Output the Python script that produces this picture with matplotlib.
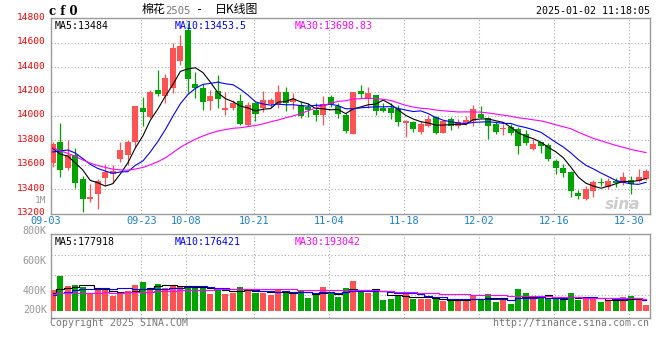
import pandas as pd
import matplotlib
matplotlib.use("Agg")
import matplotlib.pyplot as plt
from matplotlib.transforms import blended_transform_factory, ScaledTranslation

# 棉花2505 daily K, 2024-09-03 .. 2025-01-02
opens = [13612, 13787, 13571, 13681, 13487, 13323, 13361, 13495, 13525, 13648,
         13681, 13790, 14063, 13995, 14213, 14167, 14232, 14450, 14704, 14262,
         14232, 14123, 14205, 14049, 14063, 14123, 13926, 14109, 14063, 14098,
         14096, 14199, 14112, 14090, 14076, 14049, 14008, 14158, 14085, 14008,
         13853, 14205, 14137, 14172, 14068, 14068, 14057, 13945, 13948, 13872,
         13918, 13989, 13864, 13973, 13918, 13940, 13959, 14016, 13986, 13932,
         13894, 13913, 13894, 13853, 13730, 13790, 13762, 13634, 13571, 13544,
         13372, 13320, 13388, 13462, 13421, 13470, 13454, 13476, 13470, 13481]
highs = [13790, 13940, 13801, 13741, 13506, 13440, 13481, 13607, 13598, 13790,
         13803, 14082, 14158, 14213, 14377, 14341, 14601, 14663, 14759, 14363,
         14259, 14213, 14336, 14199, 14131, 14177, 14117, 14117, 14205, 14150,
         14254, 14240, 14191, 14123, 14104, 14104, 14164, 14172, 14104, 14022,
         14199, 14254, 14240, 14172, 14104, 14104, 14090, 13967, 13959, 13959,
         14008, 14000, 13965, 13995, 13975, 14000, 14090, 14082, 13995, 13954,
         13932, 13932, 13913, 13885, 13812, 13790, 13776, 13648, 13607, 13546,
         13394, 13429, 13476, 13489, 13489, 13489, 13544, 13509, 13566, 13563]
lows = [13585, 13503, 13558, 13413, 13216, 13298, 13236, 13435, 13448, 13626,
        13600, 13749, 13918, 13981, 14164, 14104, 14186, 14418, 14190, 14145,
        14049, 14049, 14063, 14008, 14049, 13926, 13920, 13959, 14035, 14063,
        14063, 14041, 14055, 13981, 13995, 13959, 13926, 14076, 13986, 13864,
        13853, 14145, 14063, 14008, 14035, 13973, 13921, 13831, 13872, 13853,
        13913, 13850, 13864, 13885, 13904, 13926, 13918, 13981, 13812, 13853,
        13844, 13844, 13689, 13762, 13722, 13694, 13634, 13525, 13498, 13339,
        13318, 13312, 13339, 13429, 13402, 13421, 13435, 13358, 13462, 13476]
closes = [13771, 13560, 13681, 13454, 13323, 13339, 13468, 13544, 13552, 13722,
          13790, 14082, 14035, 14199, 14180, 14314, 14560, 14573, 14300, 14227,
          14117, 14164, 14137, 14063, 14104, 13934, 14090, 14016, 14131, 14131,
          14199, 14109, 14139, 14000, 14049, 14008, 14098, 14096, 14016, 13877,
          14199, 14180, 14186, 14044, 14041, 14027, 13954, 13959, 13894, 13932,
          13975, 13864, 13959, 13918, 13948, 13967, 14057, 13986, 13921, 13872,
          13899, 13858, 13757, 13782, 13771, 13757, 13648, 13571, 13536, 13388,
          13348, 13399, 13457, 13449, 13470, 13449, 13498, 13440, 13498, 13552]
# volume, thousand lots
volumes = [331, 555, 395, 411, 384, 288, 341, 331, 240, 288,
           320, 411, 464, 357, 427, 368, 411, 395, 395, 357,
           373, 267, 357, 267, 288, 384, 320, 288, 288, 245,
           347, 304, 267, 331, 208, 251, 384, 288, 224, 368,
           475, 304, 277, 331, 171, 187, 251, 267, 187, 187,
           187, 187, 160, 160, 160, 171, 251, 181, 267, 144,
           171, 107, 347, 288, 181, 197, 208, 197, 187, 288,
           171, 187, 213, 144, 160, 155, 213, 235, 197, 91]

# off-chart history before 09-03 (estimated from where the MA lines start)
prior_closes = [14320, 14280, 14230, 14180, 14120, 14060, 14010, 13960, 13920, 13880,
                13780, 13650, 13540, 13430, 13350, 13290, 13260, 13250, 13280, 13340,
                13480, 13600, 13700, 13780, 13815, 13800, 13760, 13734, 13610]
prior_volumes = [260, 290, 310, 280, 250, 270, 300, 320, 290, 260,
                 240, 270, 300, 280, 260, 250, 270, 290, 255, 255,
                 200, 220, 210, 230, 210, 280, 300, 301, 228]

tick_pos = [0, 12, 18, 27, 37, 47, 57, 67, 77]
tick_labels = ["09-03", "09-23", "10-08", "10-21", "11-04", "11-18", "12-02", "12-16", "12-30"]

RED = "#ff5252"
GREEN = "#00a400"
GRID = "#aaaaaa"
FRAME = "#999999"
MONO = "DejaVu Sans Mono"

n = len(closes)
x = list(range(n))
c_all = pd.Series(prior_closes + closes)
v_all = pd.Series(prior_volumes + volumes)
k = len(prior_closes)
ma5 = c_all.rolling(5).mean().iloc[k:].values
ma10 = c_all.rolling(10).mean().iloc[k:].values
ma30 = c_all.rolling(30).mean().iloc[k:].values
vma5 = v_all.rolling(5).mean().iloc[k:].values
vma10 = v_all.rolling(10).mean().iloc[k:].values
vma30 = v_all.rolling(30).mean().iloc[k:].values

up = [c >= o for o, c in zip(opens, closes)]
cols = [RED if u else GREEN for u in up]

fig = plt.figure(figsize=(6.6, 3.6), dpi=100)
ax = fig.add_axes([50.7 / 660, 1 - 213.6 / 360, 599.3 / 660, 195.3 / 360])
axv = fig.add_axes([50.7 / 660, 1 - 318.3 / 360, 599.3 / 660, 84 / 360])

# candles
bottoms = [min(o, c) for o, c in zip(opens, closes)]
heights = [max(abs(c - o), 8) for o, c in zip(opens, closes)]
ax.vlines(x, lows, highs, colors=cols, linewidth=0.9, zorder=3)
ax.bar(x, heights, bottom=bottoms, width=0.8, color=cols, linewidth=0, zorder=4)
ax.plot(x, ma5, color="black", lw=0.8, zorder=5)
ax.plot(x, ma10, color="#0000ff", lw=0.8, zorder=5)
ax.plot(x, ma30, color="#ff00ff", lw=0.8, zorder=5)

ax.set_xlim(-0.27, 79.53)
ax.set_ylim(13200, 14800)
ax.set_yticks(range(13200, 14801, 200))
ax.tick_params(axis="y", length=0, pad=3.4, labelcolor="#ff0000", labelsize=6.8)
lift = ScaledTranslation(0, 2 / 100, fig.dpi_scale_trans)
for lab in ax.get_yticklabels():
    lab.set_family(MONO)
    lab.set_transform(lab.get_transform() + lift)
ax.set_xticks([])
for y in range(13400, 14800, 200):
    ax.axhline(y, color=GRID, lw=0.8, ls=(0, (1, 2)), zorder=1)
for p in tick_pos[1:]:
    ax.axvline(p - 0.2, color=GRID, lw=0.8, ls=(0, (1, 2)), zorder=1)

tr = blended_transform_factory(ax.transData, ax.transAxes)
for p, lab in zip(tick_pos, tick_labels):
    xp = p - 1 if p == 0 else p - 0.2
    ax.text(xp, -0.037, lab, transform=tr, ha="center", va="center",
            fontsize=7.4, family=MONO, color="#1a80d0", clip_on=False)
ax.text(-0.0075, 13310, "1M", transform=blended_transform_factory(ax.transAxes, ax.transData),
        ha="right", va="center", fontsize=6.8, family=MONO, color="#999999")

ax.text(0.006, 0.985, "MA5:13484", transform=ax.transAxes, ha="left", va="top",
        fontsize=7.1, family=MONO, color="black")
ax.text(0.206, 0.985, "MA10:13453.5", transform=ax.transAxes, ha="left", va="top",
        fontsize=7.1, family=MONO, color="#0000ff")
ax.text(0.407, 0.985, "MA30:13698.83", transform=ax.transAxes, ha="left", va="top",
        fontsize=7.1, family=MONO, color="#ff00ff")
ax.text(0.955, 0.045, "sina", transform=ax.transAxes, ha="center", va="center",
        fontsize=11, style="italic", weight="bold", color="#cccccc", zorder=2)

# volume
axv.bar(x, volumes, width=0.8, color=cols, linewidth=0, zorder=3)
axv.plot(x, vma5, color="black", lw=0.8, drawstyle="steps-mid", zorder=4)
axv.plot(x, vma10, color="#0000ff", lw=0.8, drawstyle="steps-mid", zorder=4)
axv.plot(x, vma30, color="#ff00ff", lw=0.8, drawstyle="steps-mid", zorder=4)
axv.set_xlim(-0.27, 79.53)
axv.set_ylim(-122, 1222)
axv.set_xticks([])
axv.set_yticks([])
for y in [251, 571, 891]:
    axv.axhline(y, color=GRID, lw=0.8, ls=(0, (1, 2)), zorder=1)
for p in tick_pos[1:]:
    axv.axvline(p - 0.2, color=GRID, lw=0.8, ls=(0, (1, 2)), zorder=1)
trv = blended_transform_factory(axv.transAxes, axv.transData)
for yv, lab in [(1275, "800K"), (795, "600K"), (320, "400K"), (11, "200K")]:
    axv.text(-0.0065, yv, lab, transform=trv, ha="right", va="center",
             fontsize=7.2, family=MONO, color="#999999", clip_on=False)
axv.text(0.006, 0.965, "MA5:177918", transform=axv.transAxes, ha="left", va="top",
         fontsize=7.1, family=MONO, color="black")
axv.text(0.206, 0.965, "MA10:176421", transform=axv.transAxes, ha="left", va="top",
         fontsize=7.1, family=MONO, color="#0000ff")
axv.text(0.407, 0.965, "MA30:193042", transform=axv.transAxes, ha="left", va="top",
         fontsize=7.1, family=MONO, color="#ff00ff")

for a in (ax, axv):
    for s in a.spines.values():
        s.set_color(FRAME)
        s.set_linewidth(1.0)

# header / footer
def px(xp, yp):
    return xp / 660, 1 - yp / 360

fig.text(*px(49, 11.5), "c f 0", ha="left", va="center", fontsize=8.5,
         family="DejaVu Serif", weight="bold")
cjk = ["Noto Sans CJK SC", "DejaVu Sans"]
fig.text(*px(141.5, 10), "棉花", ha="left", va="center", fontsize=8.6, family=cjk)
fig.text(*px(165.5, 10.5), "2505", ha="left", va="center", fontsize=7.6, family=MONO, color="#777777")
fig.text(*px(196, 10), "-", ha="left", va="center", fontsize=8.6, family=MONO)
fig.text(*px(215, 10), "日K线图", ha="left", va="center", fontsize=8.6, family=cjk)
fig.text(*px(649.5, 11.3), "2025-01-02 11:18:05", ha="right", va="center",
         fontsize=7.2, family=MONO)
fig.text(*px(50, 323.5), "Copyright 2025 SINA.COM", ha="left", va="center",
         fontsize=7.1, family=MONO, color="#777777")
fig.text(*px(649.5, 323.5), "http://finance.sina.com.cn", ha="right", va="center",
         fontsize=7.1, family=MONO, color="#777777")

fig.savefig("out.png", dpi=100)
